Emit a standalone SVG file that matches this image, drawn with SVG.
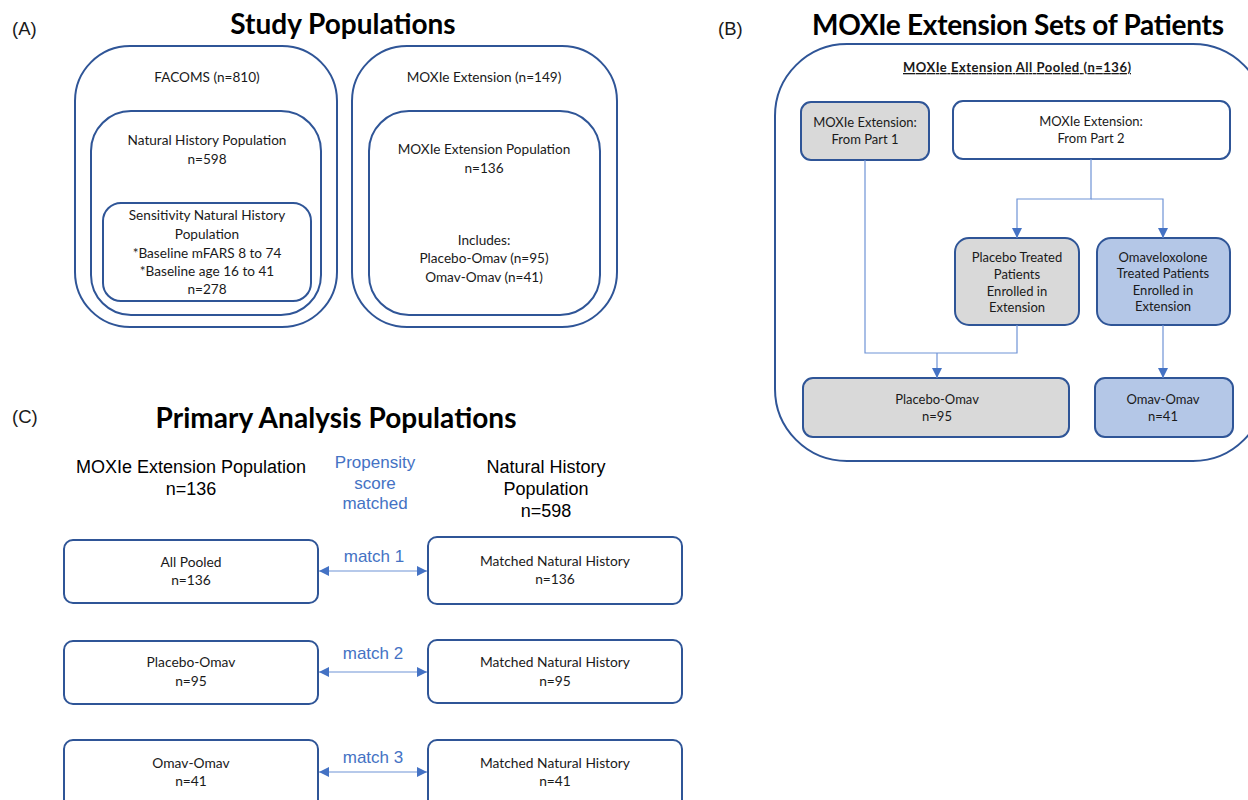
<svg xmlns="http://www.w3.org/2000/svg" width="1248" height="800" viewBox="0 0 1248 800">
<style>
.bx{fill:#fff;stroke:#2f5597;stroke-width:2}
.gr{fill:#d9d9d9;stroke:#2f5597;stroke-width:2}
.bl{fill:#b4c7e7;stroke:#2f5597;stroke-width:2}
.t{font-family:Lato,"Open Sans",sans-serif;font-size:13px;fill:#1a1a1a;text-anchor:middle}
.ta{font-size:13.6px}
.tc{font-size:13.8px}
.tl{font-family:"Liberation Sans",Arial,sans-serif;font-size:18.5px;fill:#1a1a1a}
.ti{font-family:Lato,"Open Sans",sans-serif;font-weight:bold;font-size:28px;fill:#000;text-anchor:middle}
.h{font-family:"Liberation Sans",Arial,sans-serif;font-size:18px;fill:#000;text-anchor:middle}
.hb{font-family:"Liberation Sans",Arial,sans-serif;font-size:17px;fill:#4472c4;text-anchor:middle}
.cn{fill:none;stroke:#6f93d6;stroke-width:1.2}
</style>
<defs>
<marker id="ah" viewBox="0 0 10 10" refX="10" refY="5" markerWidth="10" markerHeight="10" markerUnits="userSpaceOnUse" orient="auto-start-reverse">
<path d="M0,0 L10,5 L0,10 z" fill="#4472c4"/>
</marker>
</defs>

<text class="tl" x="12" y="35">(A)</text>
<text class="tl" x="718" y="35">(B)</text>
<text class="tl" x="12" y="423">(C)</text>
<text class="ti" x="343" y="34">Study Populations</text>
<text class="ti" x="1018" y="35" textLength="412">MOXIe Extension Sets of Patients</text>
<text class="ti" x="336" y="428" textLength="361">Primary Analysis Populations</text>

<g id="facoms">
<rect class="bx" x="75" y="46" width="262" height="281" rx="55"/>
<text class="t ta" x="207" y="82">FACOMS (n=810)</text>
</g>
<g id="nh-pop">
<rect class="bx" x="91" y="111" width="230" height="204" rx="40"/>
<text class="t ta" x="207" y="145">Natural History Population</text>
<text class="t ta" x="207" y="164">n=598</text>
</g>
<g id="sens">
<rect class="bx" x="103" y="203" width="208" height="98" rx="18"/>
<text class="t ta" x="207" y="220">Sensitivity Natural History</text>
<text class="t ta" x="207" y="239">Population</text>
<text class="t ta" x="207" y="258">*Baseline mFARS 8 to 74</text>
<text class="t ta" x="207" y="276">*Baseline age 16 to 41</text>
<text class="t ta" x="207" y="294">n=278</text>
</g>
<g id="moxie-ext">
<rect class="bx" x="352" y="46" width="265" height="281" rx="55"/>
<text class="t ta" x="484" y="82">MOXIe Extension (n=149)</text>
</g>
<g id="moxie-pop">
<rect class="bx" x="369" y="111" width="231" height="204" rx="40"/>
<text class="t ta" x="484" y="154">MOXIe Extension Population</text>
<text class="t ta" x="484" y="173">n=136</text>
<text class="t ta" x="484" y="245">Includes:</text>
<text class="t ta" x="484" y="263">Placebo-Omav (n=95)</text>
<text class="t ta" x="484" y="282">Omav-Omav (n=41)</text>
</g>

<g id="pooled">
<rect class="bx" x="775" y="44" width="490" height="417" rx="72"/>
<text class="t" x="1017" y="72" font-weight="bold" font-size="14.5px" text-decoration="underline" textLength="228">MOXIe Extension All Pooled (n=136)</text>
</g>
<g id="part1">
<rect class="gr" x="801" y="102" width="128" height="58" rx="10"/>
<text class="t" x="865" y="127">MOXIe Extension:</text>
<text class="t" x="865" y="144">From Part 1</text>
</g>
<g id="part2">
<rect class="bx" x="953" y="101" width="277" height="58" rx="10"/>
<text class="t" x="1091" y="126">MOXIe Extension:</text>
<text class="t" x="1091" y="143">From Part 2</text>
</g>
<g id="placebo-treated">
<rect class="gr" x="955" y="238" width="124" height="87" rx="14"/>
<text class="t" x="1017" y="262">Placebo Treated</text>
<text class="t" x="1017" y="279">Patients</text>
<text class="t" x="1017" y="296">Enrolled in</text>
<text class="t" x="1017" y="312">Extension</text>
</g>
<g id="omav-treated">
<rect class="bl" x="1097" y="238" width="133" height="87" rx="14"/>
<text class="t" x="1163" y="262">Omaveloxolone</text>
<text class="t" x="1163" y="278">Treated Patients</text>
<text class="t" x="1163" y="295">Enrolled in</text>
<text class="t" x="1163" y="311">Extension</text>
</g>
<g id="placebo-omav">
<rect class="gr" x="803" y="378" width="266" height="59" rx="10"/>
<text class="t" x="937" y="404">Placebo-Omav</text>
<text class="t" x="937" y="421">n=95</text>
</g>
<g id="omav-omav">
<rect class="bl" x="1095" y="378" width="138" height="59" rx="10"/>
<text class="t" x="1163" y="404">Omav-Omav</text>
<text class="t" x="1163" y="421">n=41</text>
</g>

<g id="c-headers">
<text class="h" x="191" y="473">MOXIe Extension Population</text>
<text class="h" x="191" y="495">n=136</text>
<text class="hb" x="375" y="468">Propensity</text>
<text class="hb" x="375" y="489">score</text>
<text class="hb" x="375" y="509">matched</text>
<text class="h" x="546" y="473">Natural History</text>
<text class="h" x="546" y="495">Population</text>
<text class="h" x="546" y="517">n=598</text>
</g>
<g id="all-pooled">
<rect class="bx" x="64" y="540" width="254" height="63" rx="9"/>
<text class="t tc" x="191" y="567">All Pooled</text>
<text class="t tc" x="191" y="585">n=136</text>
</g>
<g id="mnh1">
<rect class="bx" x="428" y="537" width="254" height="67" rx="9"/>
<text class="t tc" x="555" y="566">Matched Natural History</text>
<text class="t tc" x="555" y="584">n=136</text>
</g>
<g id="c-placebo">
<rect class="bx" x="64" y="641" width="254" height="63" rx="9"/>
<text class="t tc" x="191" y="667">Placebo-Omav</text>
<text class="t tc" x="191" y="686">n=95</text>
</g>
<g id="mnh2">
<rect class="bx" x="428" y="640" width="254" height="63" rx="9"/>
<text class="t tc" x="555" y="667">Matched Natural History</text>
<text class="t tc" x="555" y="686">n=95</text>
</g>
<g id="c-omav">
<rect class="bx" x="64" y="740" width="254" height="75" rx="9"/>
<text class="t tc" x="191" y="768">Omav-Omav</text>
<text class="t tc" x="191" y="786">n=41</text>
</g>
<g id="mnh3">
<rect class="bx" x="428" y="740" width="254" height="75" rx="9"/>
<text class="t tc" x="555" y="768">Matched Natural History</text>
<text class="t tc" x="555" y="786">n=41</text>
</g>
<text class="hb" x="374" y="562">match 1</text>
<text class="hb" x="373" y="659">match 2</text>
<text class="hb" x="373" y="763">match 3</text>

<g id="connectors">
<path class="cn" d="M1091,159 V199 H1017 V238" marker-end="url(#ah)"/>
<path class="cn" d="M1091,199 H1163 V238" marker-end="url(#ah)"/>
<path class="cn" d="M865,160 V353 H1017 V325"/>
<path class="cn" d="M937,353 V378" marker-end="url(#ah)"/>
<path class="cn" d="M1163,325 V378" marker-end="url(#ah)"/>
<path class="cn" d="M319,571 H427" marker-start="url(#ah)" marker-end="url(#ah)"/>
<path class="cn" d="M319,672 H427" marker-start="url(#ah)" marker-end="url(#ah)"/>
<path class="cn" d="M319,772 H427" marker-start="url(#ah)" marker-end="url(#ah)"/>
</g>
</svg>
